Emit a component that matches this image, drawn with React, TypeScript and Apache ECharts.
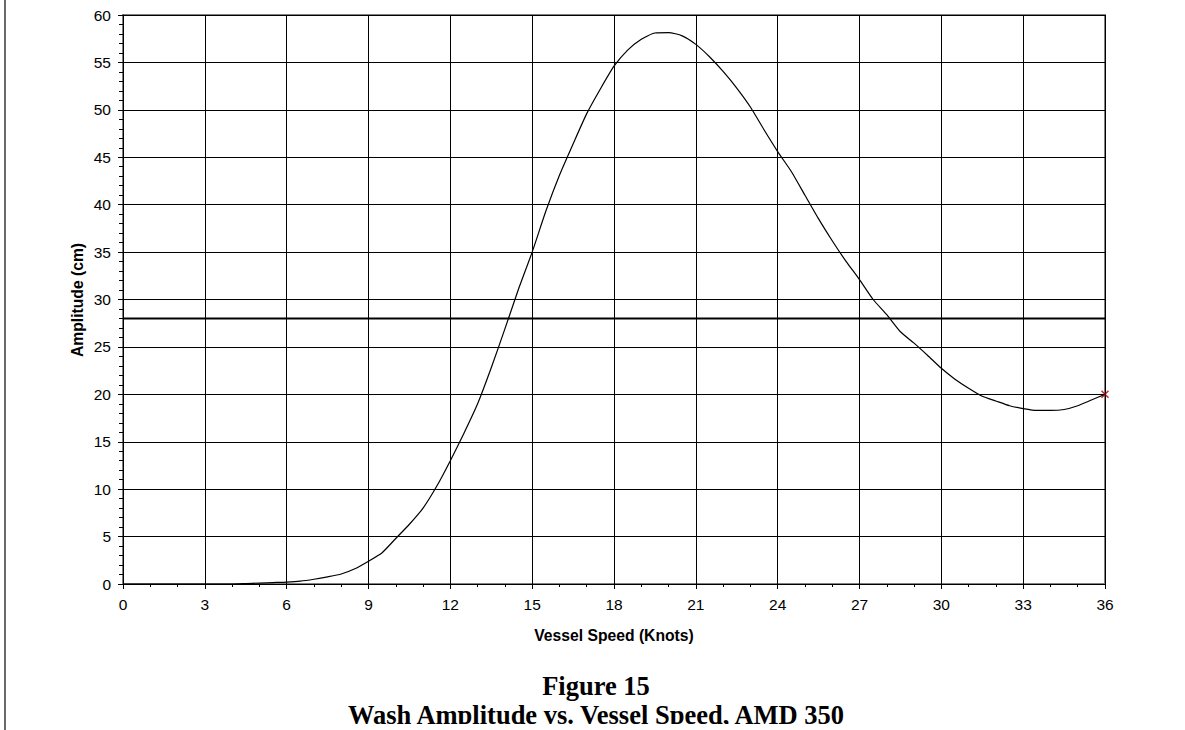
import React, { useEffect, useRef } from "react";
import * as echarts from "echarts";

// Vessel speed (knots)
const speeds = [
  0, 1, 2, 3, 4, 4.5, 5, 5.5, 6, 6.5, 7, 7.5, 8, 8.5, 9, 9.5, 10, 10.5, 11, 11.5,
  12, 12.5, 13, 13.5, 14, 14.5, 15, 15.5, 16, 16.5, 17, 17.5, 18, 18.5, 19, 19.5,
  20, 20.5, 21, 21.5, 22, 22.5, 23, 23.5, 24, 24.5, 25, 25.5, 26, 26.5, 27, 27.5,
  28, 28.5, 29, 29.5, 30, 30.5, 31, 31.5, 32, 32.5, 33, 33.5, 34, 34.5, 35, 35.5, 36,
];
// Wash amplitude (cm)
const amplitudes = [
  0, 0, 0, 0, 0, 0.05, 0.1, 0.15, 0.2, 0.3, 0.5, 0.75, 1.05, 1.6, 2.4, 3.3, 4.8, 6.3, 8.0, 10.3,
  13.0, 15.9, 19.0, 22.8, 26.9, 31.1, 35.0, 39.3, 43.1, 46.4, 49.6, 52.2, 54.6, 56.3, 57.45, 58.1,
  58.15, 57.8, 56.9, 55.6, 54.05, 52.3, 50.3, 47.9, 45.6, 43.5, 41.0, 38.5, 36.2, 34.05, 32.1, 30.0,
  28.4, 26.6, 25.4, 24.1, 22.75, 21.6, 20.65, 19.8, 19.3, 18.8, 18.5, 18.3, 18.3, 18.4, 18.8, 19.4, 20.0,
];
// Limit line
const limitX = [0, 36];
const limitY = [28, 28];
// End marker
const markerX = [36];
const markerY = [20];

const xTitle = "Vessel Speed (Knots)";
const yTitle = "Amplitude (cm)";
const figTitle = "Figure 15";
const figSubtitle = "Wash Amplitude vs. Vessel Speed, AMD 350";

const SANS = "'Liberation Sans', Arial, sans-serif";
const SERIF = "'Liberation Serif', 'Times New Roman', serif";

export default function App() {
  const ref = useRef<HTMLDivElement>(null);
  useEffect(() => {
    if (!ref.current) return;
    const chart = echarts.init(ref.current, null, { renderer: "svg" });
    chart.setOption({
      animation: false,
      backgroundColor: "#ffffff",
      grid: {
        left: 123,
        top: 15,
        width: 982,
        height: 569,
        show: true,
        borderColor: "#808080",
        borderWidth: 2,
        backgroundColor: "transparent",
        containLabel: false,
      },
      xAxis: {
        type: "value",
        min: 0,
        max: 36,
        interval: 3,
        axisLine: { show: true, onZero: false, lineStyle: { color: "#000", width: 1 } },
        axisTick: { show: true, inside: false, length: 5, lineStyle: { color: "#000" } },
        minorTick: { show: true, splitNumber: 3, length: 3, lineStyle: { color: "#000" } },
        splitLine: { show: true, lineStyle: { color: "#000", width: 1 } },
        axisLabel: { color: "#000", fontSize: 15.5, fontFamily: SANS, margin: 12 },
      },
      yAxis: {
        type: "value",
        min: 0,
        max: 60,
        interval: 5,
        axisLine: { show: true, onZero: false, lineStyle: { color: "#000", width: 1 } },
        axisTick: { show: true, inside: false, length: 5, lineStyle: { color: "#000" } },
        minorTick: { show: true, splitNumber: 5, length: 4, lineStyle: { color: "#000" } },
        splitLine: { show: true, lineStyle: { color: "#000", width: 1 } },
        axisLabel: { color: "#000", fontSize: 15.5, fontFamily: SANS, margin: 12 },
      },
      series: [
        {
          type: "line",
          data: limitX.map((x, i) => [x, limitY[i]]),
          showSymbol: false,
          symbol: "none",
          lineStyle: { color: "#000", width: 2 },
          z: 3,
        },
        {
          type: "line",
          data: speeds.map((s, i) => [s, amplitudes[i]]),
          showSymbol: false,
          symbol: "none",
          smooth: 0.2,
          lineStyle: { color: "#000", width: 1.2 },
          z: 4,
        },
        {
          type: "scatter",
          data: markerX.map((x, i) => [x, markerY[i]]),
          symbol: "path://M0,0L10,10M10,0L0,10",
          symbolSize: 7,
          clip: false,
          itemStyle: { color: "none", borderColor: "#a00000", borderWidth: 1.5 },
          z: 5,
        },
      ],
      graphic: [
        {
          type: "line",
          shape: { x1: 5, y1: 0, x2: 5, y2: 730 },
          style: { stroke: "#6a6a6a", lineWidth: 2 },
        },
        {
          type: "text",
          x: 77,
          y: 300,
          rotation: Math.PI / 2,
          style: {
            text: yTitle,
            fontSize: 15.7,
            fontWeight: "bold",
            fontFamily: SANS,
            fill: "#000",
            align: "center",
            verticalAlign: "middle",
          },
        },
        {
          type: "text",
          x: 614,
          y: 635,
          style: {
            text: xTitle,
            fontSize: 15.7,
            fontWeight: "bold",
            fontFamily: SANS,
            fill: "#000",
            align: "center",
            verticalAlign: "middle",
          },
        },
        {
          type: "text",
          x: 596,
          y: 686,
          style: {
            text: figTitle,
            fontSize: 26.5,
            fontWeight: "bold",
            fontFamily: SERIF,
            fill: "#000",
            align: "center",
            verticalAlign: "middle",
          },
        },
        {
          type: "text",
          x: 596,
          y: 715,
          style: {
            text: figSubtitle,
            fontSize: 26.5,
            fontWeight: "bold",
            fontFamily: SERIF,
            fill: "#000",
            align: "center",
            verticalAlign: "middle",
          },
        },
        {
          type: "rect",
          shape: { x: 10, y: 724, width: 1175, height: 6 },
          style: { fill: "#ffffff" },
          z: 100,
        },
      ],
    });
    return () => chart.dispose();
  }, []);
  return (
    <div
      ref={ref}
      style={{ position: "absolute", left: 0, top: 0, width: 1185, height: 730, overflow: "hidden" }}
    />
  );
}
